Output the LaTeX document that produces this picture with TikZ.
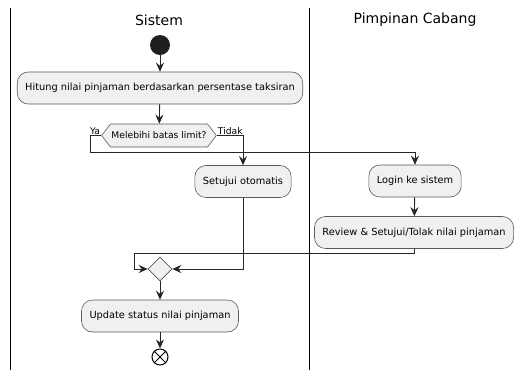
\documentclass[tikz,border=0pt]{standalone}
\usepackage{fontspec}
\setmainfont{DejaVu Sans}
\usetikzlibrary{arrows.meta,shapes.symbols,shapes.geometric,calc}

\begin{document}
\begin{tikzpicture}[
    x=1pt,
    y=-1pt,
    act/.style={draw=black!65, line width=0.6pt, fill=black!6, rounded corners=11pt,
        minimum height=32pt, inner xsep=8pt, font=\fontsize{9.8}{12}\selectfont},
    decide/.style={draw=black!65, line width=0.6pt, fill=black!6, signal, signal to=west and east,
        signal pointer angle=105, minimum height=23pt, inner xsep=1pt, font=\fontsize{9.2}{11}\selectfont},
    lbl/.style={inner sep=1pt, font=\fontsize{9.2}{11}\selectfont},
    flow/.style={draw=black!85, line width=0.9pt, -{Stealth[length=9pt,width=8pt,inset=3pt]}},
    lane/.style={line width=1pt}
]
\useasboundingbox (0,0) rectangle (518,370);

% swimlanes
\draw[lane] (10,8) -- (10,370);
\draw[lane] (309,8) -- (309,370);
\node[font=\fontsize{14}{17}\selectfont] (tsis) at (159,20) {Sistem};
\node[font=\fontsize{14}{17}\selectfont] (tpim) at (415,20) {Pimpinan Cabang};

% nodes
\node[circle, fill=black!88, minimum size=20pt, inner sep=0pt] (start) at (160,45) {};
\node[act] (hitung) at (160,88) {Hitung nilai pinjaman berdasarkan persentase taksiran};
\node[decide] (dec) at (159,135.5) {Melebihi batas limit?};
\node[lbl, anchor=south east] (ya) at (dec.west) {Ya};
\node[lbl, anchor=south west] (tidak) at (dec.east) {Tidak};
\node[act] (auto) at (243,181.5) {Setujui otomatis};
\node[act] (login) at (415,181) {Login ke sistem};
\node[act] (review) at (414,232.5) {Review \& Setujui/Tolak nilai pinjaman};
\node[diamond, aspect=1, draw=black!65, line width=0.6pt, fill=black!6, inner sep=0pt,
    minimum size=24pt] (merge) at (160,269) {};
\node[act] (update) at (160,316) {Update status nilai pinjaman};
\node[circle, draw=black, line width=1pt, minimum size=16pt, inner sep=0pt] (stop) at (160,357) {};
\draw[line width=1pt] (stop.45) -- (stop.225);
\draw[line width=1pt] (stop.135) -- (stop.-45);

% flows
\draw[flow] (start) -- (hitung);
\draw[flow] (hitung) -- (dec);
\draw[flow] (dec.west) -- ++(-11,0) -- ++(0,17) -| (login.north);
\draw[flow] (dec.east) -| (auto.north);
\draw[flow] (login) -- (review);
\draw[flow] (auto.south) |- (merge.east);
\draw[flow] (review.south) -- ++(0,5) -| ($(merge.west)+(-13,0)$) -- (merge.west);
\draw[flow] (merge) -- (update);
\draw[flow] (update) -- (stop);

\end{tikzpicture}
\end{document}
